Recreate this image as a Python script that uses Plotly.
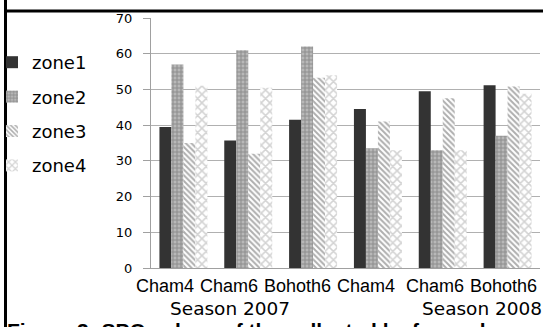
import plotly.graph_objects as go

sites = ["Cham4", "Cham6", "Bohoth6", "Cham4", "Cham6", "Bohoth6"]
seasons = ["Season 2007", "Season 2007", "Season 2007", "Season 2008", "Season 2008", "Season 2008"]
season_labels = ["Season 2007", "Season 2008"]

zone1 = [39.5, 35.7, 41.5, 44.5, 49.5, 51.2]
zone2 = [57.0, 61.0, 62.0, 33.5, 33.0, 37.0]
zone3 = [35.0, 32.0, 53.3, 41.0, 47.5, 50.8]
zone4 = [51.0, 50.5, 54.0, 33.0, 33.0, 48.8]

caption = "Figure 3: SPQ values of the collected leaf samples"

keys = [f"{s} {c}" for s, c in zip(seasons, sites)]

W, H = 543, 327
L, R, T, B = 151, 3, 18, 59
pw, ph = W - L - R, H - T - B

def px(x):
    return (x - L) / pw

def py(y):
    return (H - B - y) / ph

fig = go.Figure()
styles = [
    ("zone1", zone1, dict(color="#333333")),
    ("zone2", zone2, dict(color="#b4b4b4", pattern=dict(shape="+", fgcolor="#626262", bgcolor="#b8b8b8", size=4, solidity=0.45))),
    ("zone3", zone3, dict(color="#ffffff", pattern=dict(shape="\\", fgcolor="#5e5e5e", bgcolor="#ffffff", size=4, solidity=0.5))),
    ("zone4", zone4, dict(color="#ffffff", pattern=dict(shape="x", fgcolor="#a8a8a8", bgcolor="#ffffff", size=6, solidity=0.45))),
]
for name, vals, mk in styles:
    mk = dict(mk, line=dict(width=0))
    fig.add_trace(go.Bar(x=keys, y=vals, name=name, marker=mk, legendgroup=name))

annotations = []
label_px = [164.5, 228.5, 297, 365.5, 434.5, 503]
for lab, xc in zip(sites, label_px):
    annotations.append(dict(text=lab, x=px(xc), y=py(285.5), xref="paper", yref="paper",
                            showarrow=False, xanchor="center", yanchor="middle",
                            font=dict(family="Liberation Sans, Arial", size=18, color="#000")))
annotations.append(dict(text=season_labels[0], x=px(230), y=py(308), xref="paper", yref="paper",
                        showarrow=False, xanchor="center", yanchor="middle",
                        font=dict(family="DejaVu Sans", size=18.5, color="#000")))
annotations.append(dict(text=season_labels[1], x=px(544), y=py(308), xref="paper", yref="paper",
                        showarrow=False, xanchor="right", yanchor="middle",
                        font=dict(family="DejaVu Sans", size=18.5, color="#000")))
annotations.append(dict(text="<b>" + caption + "</b>", x=px(5), y=py(317),
                        xref="paper", yref="paper", showarrow=False, xanchor="left", yanchor="top",
                        font=dict(family="Liberation Sans, Arial", size=21, color="#000")))

shapes = [
    dict(type="line", xref="paper", yref="paper", x0=px(5), x1=px(545), y0=py(11), y1=py(11),
         line=dict(color="#000", width=3)),
    dict(type="line", xref="paper", yref="paper", x0=px(5.5), x1=px(5.5), y0=py(-2), y1=py(330),
         line=dict(color="#000", width=3)),
]

fig.update_layout(
    width=W, height=H,
    margin=dict(l=L, r=R, t=T, b=B, pad=0, autoexpand=False),
    paper_bgcolor="white", plot_bgcolor="white",
    barmode="group", bargap=0.26, bargroupgap=0,
    showlegend=True,
    legend=dict(x=px(-8), y=py(44), xanchor="left", yanchor="top", xref="paper", yref="paper",
                font=dict(family="DejaVu Sans", size=18, color="#000"),
                tracegroupgap=8, traceorder="grouped", bgcolor="rgba(0,0,0,0)", itemwidth=30),
    xaxis=dict(showticklabels=False, showgrid=False, ticks="", showline=True,
               linecolor="#a0a0a0", linewidth=1, zeroline=False, fixedrange=True),
    yaxis=dict(range=[0, 70], dtick=10, showgrid=True, gridcolor="#b0b0b0", gridwidth=1,
               showline=True, linecolor="#a0a0a0", linewidth=1, ticks="outside", ticklen=7,
               tickcolor="#a0a0a0", zeroline=False, ticklabelstandoff=8,
               tickfont=dict(family="DejaVu Sans", size=13, color="#000")),
    annotations=annotations,
    shapes=shapes,
)

fig.write_html("out.html", config={"displayModeBar": False},
               post_script="document.body.style.margin='0';document.body.style.overflow='hidden';")
